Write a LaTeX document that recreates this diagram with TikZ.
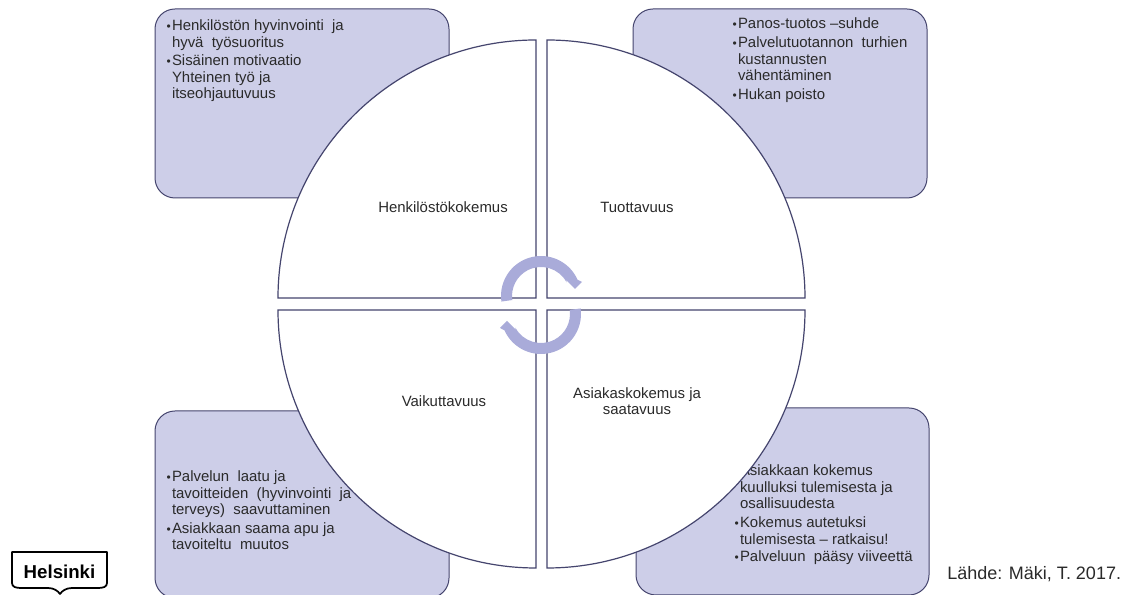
\documentclass[tikz,border=0pt]{standalone}
\usepackage{fontspec}
\setmainfont{Liberation Sans}
\definecolor{boxfill}{HTML}{CDCEE8}
\definecolor{edge}{HTML}{45456E}
\definecolor{arrowc}{HTML}{A9ABD9}
\definecolor{txt}{HTML}{2A2A2A}
\newcommand{\bul}{\leavevmode\llap{\fontsize{9}{9}\selectfont•\hspace{0.8pt}}}
\tikzset{
  x=0.75pt,y=0.75pt,
  infobox/.style={draw=edge,fill=boxfill,line width=0.75pt,rounded corners=15pt},
  quad/.style={draw=edge,fill=white,line width=0.9pt},
  circarrow/.style={fill=arrowc,draw=none},
  boxtext/.style={anchor=north west,inner sep=0pt,outer sep=0pt,align=left,text=txt,font=\fontsize{11.2}{12.4}\selectfont},
  label/.style={inner sep=0pt,text=txt,font=\fontsize{11.2}{12.4}\selectfont},
}
\begin{document}
\begin{tikzpicture}
\useasboundingbox (0,0) rectangle (1133,595);
\fill[white] (0,0) rectangle (1133,595);
% boxes
\draw[infobox] (155,397) rectangle (449,586);
\draw[infobox] (633,397) rectangle (927,586);
\draw[infobox] (155,-3) rectangle (449,184);
\draw[infobox] (636,0) rectangle (929,187);
% box texts
\node[boxtext] (t1) at (172,575) {\bul Henkilöstön hyvinvointi\ \ ja\\hyvä\ \ työsuoritus\\[1.3pt]\bul Sisäinen motivaatio\\Yhteinen työ ja\\itseohjautuvuus};
\node[boxtext] (t2) at (738,577) {\bul Panos-tuotos –suhde\\[1.6pt]\bul Palvelutuotannon\ \ turhien\\kustannusten\\vähentäminen\\[1.6pt]\bul Hukan poisto};
\node[boxtext] (t3) at (172,124) {\bul Palvelun\ \ laatu ja\\tavoitteiden\ \ (hyvinvointi\ \ ja\\terveys)\ \ saavuttaminen\\[1.3pt]\bul Asiakkaan saama apu ja\\tavoiteltu\ \ muutos};
\node[boxtext] (t4) at (740,130) {\bul Asiakkaan kokemus\\kuulluksi tulemisesta ja\\osallisuudesta\\[1.6pt]\bul Kokemus autetuksi\\tulemisesta – ratkaisu!\\[1pt]\bul Palveluun\ \ pääsy viiveettä};
% quadrants
\draw[quad] (536,297) -- (278,297) arc[start angle=180,end angle=90,radius=258] -- cycle;
\draw[quad] (547,297) -- (547,555) arc[start angle=90,end angle=0,radius=258] -- cycle;
\draw[quad] (536,285) -- (536,27) arc[start angle=270,end angle=180,radius=258] -- cycle;
\draw[quad] (547,285) -- (805,285) arc[start angle=0,end angle=-90,radius=258] -- cycle;
% quadrant labels
\node[label] (q1) at (443,388) {Henkilöstökokemus};
\node[label] (q2) at (637,388) {Tuottavuus};
\node[label] (q3) at (444,194) {Vaikuttavuus};
\node[label,align=center] (q4) at (637,194) {Asiakaskokemus ja\\saatavuus};
% circular arrows
\fill[circarrow] ([shift={(541,299)}]188:40) arc[start angle=188,end angle=24,radius=40]
  -- (582,313) -- (575,306) -- (566,315) -- ([shift={(541,299)}]28:29) arc[start angle=28,end angle=188,radius=29] -- cycle;
\fill[circarrow] ([shift={(541,281)}]8:40) arc[start angle=8,end angle=-156,radius=40]
  -- (500,267) -- (507,274) -- (516,265) -- ([shift={(541,281)}]-152:29) arc[start angle=-152,end angle=8,radius=29] -- cycle;
% source
\node[inner sep=0pt,anchor=west,text=txt,font=\fontsize{13.5}{15}\selectfont] (src) at (947,21) {Lähde: Mäki, T. 2017.};
% logo
\draw[line width=1.3pt,fill=white,line join=round] (12,43) -- (107,43) -- (107,12) .. controls (107,8) and (103,7) .. (98,7) -- (72,7) .. controls (66,7) and (62,4) .. (60,1) .. controls (58,4) and (54,7) .. (48,7) -- (21,7) .. controls (16,7) and (12,8) .. (12,12) -- cycle;
\node[inner sep=0pt,font=\bfseries\fontsize{14}{16}\selectfont] (logo) at (59.5,23) {Helsinki};
\end{tikzpicture}
\end{document}
